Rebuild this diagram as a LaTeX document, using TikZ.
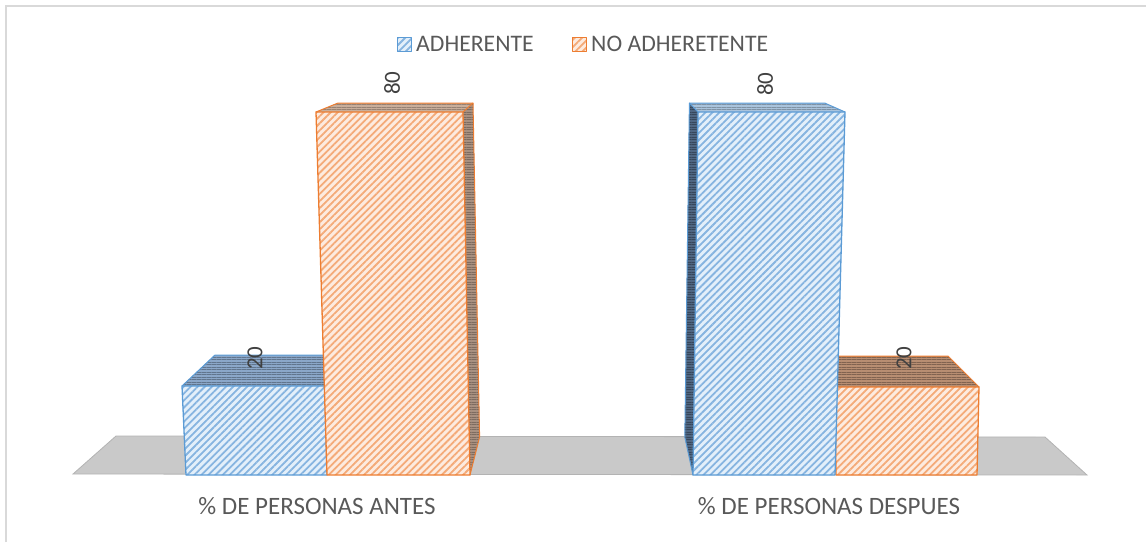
\documentclass[tikz,border=0pt]{standalone}
\usepackage{fontspec}
\setmainfont{Carlito}
\usetikzlibrary{patterns.meta}
\definecolor{blueEdge}{HTML}{5B9BD5}
\definecolor{blueLight}{HTML}{E3EFFA}
\definecolor{blueStripe}{HTML}{86B4E0}
\definecolor{orangeEdge}{HTML}{ED7D31}
\definecolor{orangeLight}{HTML}{FDEBDF}
\definecolor{orangeStripe}{HTML}{F4AA78}
\definecolor{blueTopA}{HTML}{8BA7C9}
\definecolor{blueTopB}{HTML}{A9C3DC}
\definecolor{blueSide}{HTML}{4F6682}
\definecolor{orangeTopA}{HTML}{C9AE9A}
\definecolor{orangeTopB}{HTML}{B88E72}
\definecolor{orangeSide}{HTML}{A89080}
\definecolor{floorFill}{HTML}{C9C9C9}
\definecolor{floorEdge}{HTML}{B3B3B3}
\definecolor{frameGray}{HTML}{D9D9D9}
\definecolor{txtGray}{HTML}{595959}
\definecolor{lblGray}{HTML}{404040}
\tikzset{
  bluefront/.style={fill=blueLight},
  bluehatch/.style={pattern={Lines[angle=45,distance=5pt,line width=1.8pt]},pattern color=blueStripe},
  orangefront/.style={fill=orangeLight},
  orangehatch/.style={pattern={Lines[angle=45,distance=5pt,line width=1.8pt]},pattern color=orangeStripe},
  topfine/.style={pattern={Lines[angle=0,distance=2.5pt,line width=0.6pt]},pattern color=#1},
  blueline/.style={draw=blueEdge,line width=1.3pt,line join=round},
  orangeline/.style={draw=orangeEdge,line width=1.3pt,line join=round},
  datalbl/.style={rotate=90,text=lblGray,font=\fontsize{23}{26}\selectfont,inner sep=0pt},
  axislbl/.style={text=txtGray,font=\fontsize{25}{28}\selectfont,inner sep=0pt},
  legtxt/.style={text=txtGray,font=\fontsize{23.7}{26}\selectfont,inner sep=0pt,anchor=west},
}
\begin{document}
\begin{tikzpicture}[x=1pt,y=-1pt]
\useasboundingbox (0,0) rectangle (1146,542);
% frame
\draw[frameGray,line width=1.5pt] (6,542) -- (6,6) -- (1146,6);
% legend
\fill[bluefront] (397,37) rectangle (411,51);
\fill[bluehatch] (397,37) rectangle (411,51);
\draw[blueline,line width=1pt] (397,37) rectangle (411,51);
\node[legtxt] (legA) at (416,44) {ADHERENTE};
\fill[orangefront] (572,37) rectangle (586,51);
\fill[orangehatch] (572,37) rectangle (586,51);
\draw[orangeline,line width=1pt] (572,37) rectangle (586,51);
\node[legtxt] (legB) at (591,44) {NO ADHERETENTE};
% floor
\filldraw[fill=floorFill,draw=floorEdge,line width=0.8pt] (73,474) -- (1087,475) -- (1045,437) -- (116,436) -- cycle;
% ---- Blue short (left group)
\fill[blueTopA] (182,386) -- (325,386) -- (346,355) -- (215,355) -- cycle;
\fill[topfine=blueTopA!70!black] (182,386) -- (325,386) -- (346,355) -- (215,355) -- cycle;
\draw[blueline,line width=1pt] (182,386) -- (215,355) -- (346,355);
\fill[bluefront] (182,386) -- (325,386) -- (327,475) -- (186,475) -- cycle;
\fill[bluehatch] (182,386) -- (325,386) -- (327,475) -- (186,475) -- cycle;
\draw[blueline] (182,386) -- (325,386) -- (327,475) -- (186,475) -- cycle;
% ---- Orange tall (left group)
\fill[orangeSide] (463,112) -- (473,103) -- (479.6,437) -- (470,475) -- cycle;
\fill[topfine=orangeSide!75!black] (463,112) -- (473,103) -- (479.6,437) -- (470,475) -- cycle;
\fill[orangeTopA] (316,112) -- (463,112) -- (473,103) -- (338,103) -- cycle;
\fill[topfine=orangeTopA!75!black] (316,112) -- (463,112) -- (473,103) -- (338,103) -- cycle;
\draw[orangeline,line width=1pt] (316,112) -- (338,103) -- (473,103) -- (479.6,437) -- (470,475);
\draw[orangeline,line width=1pt] (463,112) -- (473,103);
\fill[orangefront] (316,112) -- (463,112) -- (470,475) -- (327,475) -- cycle;
\fill[orangehatch] (316,112) -- (463,112) -- (470,475) -- (327,475) -- cycle;
\draw[orangeline] (316,112) -- (463,112) -- (470,475) -- (327,475) -- cycle;
% ---- Orange short (right group)
\fill[orangeTopB] (835,387) -- (979,387) -- (948,356) -- (815,356) -- cycle;
\fill[topfine=orangeTopB!70!black] (835,387) -- (979,387) -- (948,356) -- (815,356) -- cycle;
\draw[orangeline,line width=1pt] (815,356) -- (948,356) -- (979,387);
\fill[orangefront] (835,387) -- (979,387) -- (977,475) -- (836,475) -- cycle;
\fill[orangehatch] (835,387) -- (979,387) -- (977,475) -- (836,475) -- cycle;
\draw[orangeline] (835,387) -- (979,387) -- (977,475) -- (836,475) -- cycle;
% ---- Blue tall (right group)
\fill[blueSide] (698,112) -- (689.4,103) -- (684.8,437) -- (693,475) -- cycle;
\fill[topfine=blueSide!70!black] (698,112) -- (689.4,103) -- (684.8,437) -- (693,475) -- cycle;
\fill[blueTopB] (698,112) -- (845,112) -- (824.6,103) -- (689.4,103) -- cycle;
\fill[topfine=blueTopB!75!black] (698,112) -- (845,112) -- (824.6,103) -- (689.4,103) -- cycle;
\draw[blueline,line width=1pt] (693,475) -- (684.8,437) -- (689.4,103) -- (824.6,103) -- (845,112);
\draw[blueline,line width=1pt] (698,112) -- (689.4,103);
\fill[bluefront] (698,112) -- (845,112) -- (835,475) -- (693,475) -- cycle;
\fill[bluehatch] (698,112) -- (845,112) -- (835,475) -- (693,475) -- cycle;
\draw[blueline] (698,112) -- (845,112) -- (835,475) -- (693,475) -- cycle;
% data labels
\node[datalbl] (lA1) at (255,358) {20};
\node[datalbl] (lB1) at (392,83) {80};
\node[datalbl] (lA2) at (765,84) {80};
\node[datalbl] (lB2) at (904,358) {20};
% axis labels
\node[axislbl] (cat1) at (317,506) {\% DE PERSONAS ANTES};
\node[axislbl] (cat2) at (829,506) {\% DE PERSONAS DESPUES};
\end{tikzpicture}
\end{document}
